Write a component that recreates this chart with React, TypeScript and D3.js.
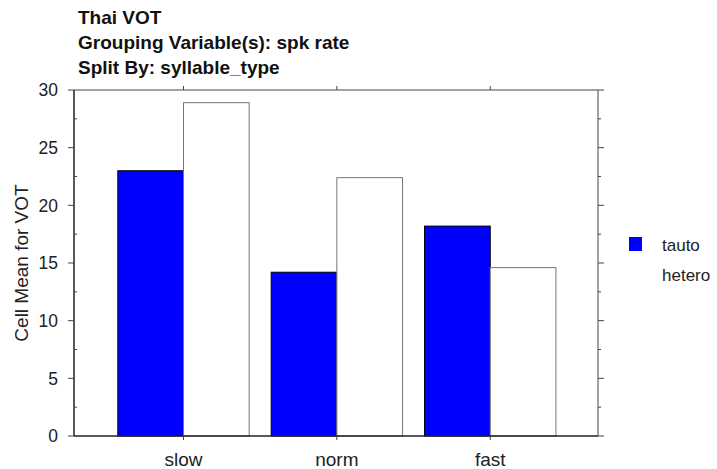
import React from "react";
import * as d3 from "d3";

const categories = ["slow", "norm", "fast"];
const seriesNames = ["tauto", "hetero"];
const tautoValues = [23.0, 14.2, 18.2];
const heteroValues = [28.9, 22.4, 14.6];
const yTicks = [0, 5, 10, 15, 20, 25, 30];
const titleLines = ["Thai VOT", "Grouping Variable(s): spk rate", "Split By: syllable_type"];

const W = 717, H = 469;
const left = 74, right = 598, top = 90, bottom = 436;
const font = "Liberation Sans, Arial, sans-serif";

export default function App() {
  const y = d3.scaleLinear().domain([0, 30]).range([bottom, top]);
  const x = d3.scaleBand<string>().domain(categories).range([left, right]).paddingInner(0.1435).paddingOuter(0.28).align(0.51);
  const x1 = d3.scaleBand<string>().domain(seriesNames).range([0, x.bandwidth()]);
  const minor = d3.range(2.5, 30, 5);
  const series = [
    { name: "tauto", values: tautoValues, fill: "#0000ff", stroke: "#000" },
    { name: "hetero", values: heteroValues, fill: "#ffffff", stroke: "#777" },
  ];
  return (
    <svg width={W} height={H} style={{ position: "absolute", left: 0, top: 0, background: "#fff" }} fontFamily={font}>
      {titleLines.map((t, i) => (
        <text key={i} x={78} y={24 + i * 25} fontSize={19} fontWeight="bold" fill="#111">{t}</text>
      ))}
      {series.map((s) =>
        s.values.map((v, i) => (
          <rect key={s.name + i} x={(x(categories[i]) as number) + (x1(s.name) as number)} y={y(v)}
            width={x1.bandwidth()} height={y(0) - y(v)} fill={s.fill} stroke={s.stroke} strokeWidth={1} />
        ))
      )}
      {/* frame */}
      <line x1={left} x2={right} y1={top} y2={top} stroke="#444" />
      <line x1={left} x2={right} y1={bottom} y2={bottom} stroke="#222" strokeWidth={1.5} />
      <line x1={left} x2={left} y1={top} y2={bottom} stroke="#222" strokeWidth={1.5} />
      <line x1={right} x2={right} y1={top} y2={bottom} stroke="#444" />
      {yTicks.map((t) => (
        <g key={t}>
          <line x1={left - 6} x2={left} y1={y(t)} y2={y(t)} stroke="#444" />
          <line x1={right} x2={right + 6} y1={y(t)} y2={y(t)} stroke="#444" />
          <text x={left - 16} y={y(t)} dy="0.36em" textAnchor="end" fontSize={17.5} fill="#222">{t}</text>
        </g>
      ))}
      {minor.map((t) => (
        <g key={"m" + t}>
          <line x1={left} x2={left + 3} y1={y(t)} y2={y(t)} stroke="#444" />
          <line x1={right} x2={right + 3} y1={y(t)} y2={y(t)} stroke="#444" />
        </g>
      ))}
      {categories.map((c) => {
        const cx = (x(c) as number) + x.bandwidth() / 2;
        return (
          <g key={c}>
            <line x1={cx} x2={cx} y1={bottom} y2={bottom + 4} stroke="#444" />
            <line x1={cx} x2={cx} y1={top} y2={top - 4} stroke="#444" />
            <text x={cx} y={466} textAnchor="middle" fontSize={19} fill="#222">{c}</text>
          </g>
        );
      })}
      <text transform={`translate(28,${(top + bottom) / 2}) rotate(-90)`} textAnchor="middle" fontSize={19} fill="#222">Cell Mean for VOT</text>
      {/* legend */}
      <rect x={629} y={237} width={13} height={14} fill="#0000ff" />
      <text x={662} y={251} fontSize={17} fill="#222">{seriesNames[0]}</text>
      <text x={662} y={281} fontSize={17} fill="#222">{seriesNames[1]}</text>
    </svg>
  );
}
